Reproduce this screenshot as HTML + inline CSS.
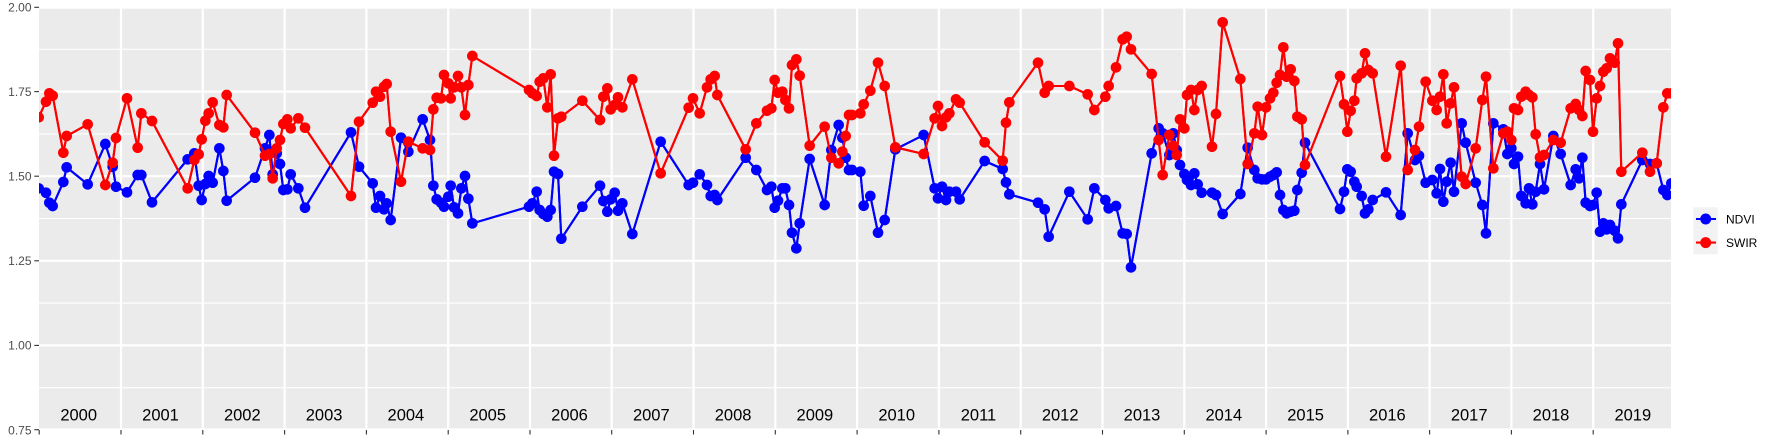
<!DOCTYPE html>
<html>
<head>
<meta charset="utf-8">
<style>
html,body{margin:0;padding:0;background:#fff;}
svg{display:block;}
text{font-family:"Liberation Sans",Arial,sans-serif;}
</style>
</head>
<body>
<svg width="1773" height="442" viewBox="0 0 1773 442" xmlns="http://www.w3.org/2000/svg">
<defs>
<clipPath id="pc"><rect x="39" y="7" width="1632" height="423"/></clipPath>
<marker id="mb" viewBox="0 0 34 34" refX="17" refY="17" markerWidth="34" markerHeight="34" markerUnits="userSpaceOnUse" overflow="visible"><circle cx="17" cy="17" r="16" fill="#0000FF"/></marker>
<marker id="mr" viewBox="0 0 34 34" refX="17" refY="17" markerWidth="34" markerHeight="34" markerUnits="userSpaceOnUse" overflow="visible"><circle cx="17" cy="17" r="16" fill="#FF0000"/></marker>
</defs>
<rect x="0" y="0" width="1773" height="442" fill="#fff"/>
<!-- panel -->
<rect x="39" y="7" width="1632" height="423" fill="#EBEBEB"/>
<!-- minor gridlines -->
<g stroke="#fff" stroke-width="1.1">
<line x1="39" x2="1671" y1="49.3" y2="49.3"/>
<line x1="39" x2="1671" y1="133.9" y2="133.9"/>
<line x1="39" x2="1671" y1="218.5" y2="218.5"/>
<line x1="39" x2="1671" y1="303.1" y2="303.1"/>
<line x1="39" x2="1671" y1="387.7" y2="387.7"/>
</g>
<!-- major gridlines -->
<g stroke="#fff" stroke-width="2.2">
<line x1="39" x2="1671" y1="7.5" y2="7.5"/>
<line x1="39" x2="1671" y1="91.6" y2="91.6"/>
<line x1="39" x2="1671" y1="176.2" y2="176.2"/>
<line x1="39" x2="1671" y1="260.8" y2="260.8"/>
<line x1="39" x2="1671" y1="345.4" y2="345.4"/>
<line x1="39" x2="1671" y1="429.5" y2="429.5"/>
<line x1="121" x2="121" y1="7" y2="430"/>
<line x1="202.8" x2="202.8" y1="7" y2="430"/>
<line x1="284.6" x2="284.6" y1="7" y2="430"/>
<line x1="366.4" x2="366.4" y1="7" y2="430"/>
<line x1="448.2" x2="448.2" y1="7" y2="430"/>
<line x1="530" x2="530" y1="7" y2="430"/>
<line x1="611.7" x2="611.7" y1="7" y2="430"/>
<line x1="693.5" x2="693.5" y1="7" y2="430"/>
<line x1="775.3" x2="775.3" y1="7" y2="430"/>
<line x1="857.1" x2="857.1" y1="7" y2="430"/>
<line x1="938.9" x2="938.9" y1="7" y2="430"/>
<line x1="1020.7" x2="1020.7" y1="7" y2="430"/>
<line x1="1102.5" x2="1102.5" y1="7" y2="430"/>
<line x1="1184.3" x2="1184.3" y1="7" y2="430"/>
<line x1="1266.1" x2="1266.1" y1="7" y2="430"/>
<line x1="1347.9" x2="1347.9" y1="7" y2="430"/>
<line x1="1429.6" x2="1429.6" y1="7" y2="430"/>
<line x1="1511.4" x2="1511.4" y1="7" y2="430"/>
<line x1="1593.2" x2="1593.2" y1="7" y2="430"/>
</g>
<!-- year labels -->
<g font-size="16.5" fill="#000" text-anchor="middle">
<text x="78.7" y="420.5">2000</text>
<text x="160.5" y="420.5">2001</text>
<text x="242.3" y="420.5">2002</text>
<text x="324.1" y="420.5">2003</text>
<text x="405.9" y="420.5">2004</text>
<text x="487.7" y="420.5">2005</text>
<text x="569.5" y="420.5">2006</text>
<text x="651.3" y="420.5">2007</text>
<text x="733.1" y="420.5">2008</text>
<text x="814.9" y="420.5">2009</text>
<text x="896.7" y="420.5">2010</text>
<text x="978.5" y="420.5">2011</text>
<text x="1060.2" y="420.5">2012</text>
<text x="1142" y="420.5">2013</text>
<text x="1223.8" y="420.5">2014</text>
<text x="1305.6" y="420.5">2015</text>
<text x="1387.4" y="420.5">2016</text>
<text x="1469.2" y="420.5">2017</text>
<text x="1551" y="420.5">2018</text>
<text x="1632.8" y="420.5">2019</text>
</g>
<!-- data -->
<g clip-path="url(#pc)">
<g transform="translate(36,10) scale(0.333333)">
<polyline id="bl" fill="none" stroke="#0000FF" stroke-width="6.3" stroke-linejoin="round" points="8,535 30,548 40,578 50,588 82,516 92,472 155,523 208,402 230,470 240,530 273,547 305,495 316,495 348,577 455,448 475,430 488,527 497,570 508,522 518,498 530,518 550,415 562,483 572,572 657,503 687,415 700,375 710,493 722,430 732,462 742,540 754,538 764,493 787,535 807,593 945,367 969,470 1010,520 1020,593 1032,558 1044,598 1052,580 1064,630 1095,383 1117,425 1160,328 1182,390 1192,527 1202,568 1215,578 1224,590 1237,560 1244,527 1254,592 1266,610 1276,535 1287,498 1297,566 1309,640 1479,590 1489,580 1502,545 1511,600 1522,612 1534,620 1544,600 1554,485 1566,492 1576,686 1639,590 1692,527 1702,573 1714,605 1724,568 1736,548 1746,602 1759,580 1789,672 1874,395 1958,525 1971,518 1991,493 2013,525 2024,558 2036,555 2044,570 2129,443 2161,480 2193,540 2206,530 2216,593 2226,572 2239,535 2248,535 2259,585 2268,668 2281,715 2291,640 2321,447 2366,585 2386,420 2408,345 2419,383 2429,443 2439,480 2448,480 2473,485 2483,587 2503,558 2526,668 2546,630 2578,418 2663,375 2696,535 2706,565 2718,530 2730,570 2740,545 2760,545 2771,568 2846,453 2900,477 2910,517 2920,553 3006,578 3026,598 3038,680 3100,545 3155,628 3175,535 3208,570 3218,595 3240,588 3260,670 3272,672 3285,772 3347,430 3368,355 3380,370 3400,435 3412,370 3422,420 3432,465 3445,492 3453,510 3465,525 3475,490 3485,523 3497,548 3528,548 3540,555 3560,612 3613,552 3635,413 3655,480 3665,505 3678,508 3690,508 3702,500 3712,495 3722,487 3732,555 3742,600 3752,610 3764,605 3775,602 3784,540 3797,488 3807,398 3912,597 3924,545 3934,478 3944,485 3955,515 3962,530 3977,558 3987,610 3997,598 4010,570 4050,547 4094,615 4115,370 4137,450 4149,437 4169,518 4189,510 4202,550 4212,477 4222,575 4232,515 4244,458 4254,545 4277,340 4289,398 4319,518 4339,585 4350,670 4372,340 4402,358 4414,432 4426,415 4434,462 4446,440 4456,558 4469,580 4479,535 4489,583 4499,545 4512,462 4524,538 4552,378 4574,432 4604,525 4619,478 4629,505 4639,443 4649,578 4662,588 4671,585 4682,548 4692,665 4702,640 4712,658 4722,645 4736,662 4746,685 4756,583 4819,450 4842,462 4862,460 4882,540 4894,555 4906,520"/>
<polyline id="rl" fill="none" stroke="#FF0000" stroke-width="6.3" stroke-linejoin="round" points="8,322 30,275 40,250 50,257 82,428 92,378 155,343 208,525 230,458 240,384 273,265 305,413 316,310 348,333 455,535 475,450 488,433 497,388 508,332 518,310 530,277 550,345 562,352 572,255 657,368 687,437 700,432 710,505 722,415 732,390 742,342 754,328 764,355 787,325 807,353 945,558 969,335 1010,278 1020,245 1032,260 1044,230 1052,222 1064,365 1095,515 1117,395 1160,415 1182,420 1192,298 1202,263 1215,265 1224,195 1237,220 1244,265 1254,232 1266,198 1276,232 1287,315 1297,225 1309,138 1479,240 1489,250 1502,258 1511,215 1522,205 1534,292 1544,193 1554,437 1566,325 1576,320 1639,272 1692,330 1702,260 1714,235 1724,298 1736,285 1746,262 1759,292 1789,208 1874,490 1958,293 1971,265 1991,310 2013,232 2024,208 2036,198 2044,255 2129,418 2161,340 2193,302 2206,295 2216,210 2226,248 2239,245 2248,270 2259,295 2268,165 2281,148 2291,197 2321,407 2366,350 2386,443 2408,460 2419,425 2429,378 2439,315 2448,315 2473,310 2483,283 2503,242 2526,158 2546,228 2578,412 2663,432 2696,325 2706,288 2718,348 2730,322 2740,310 2760,268 2771,278 2846,397 2900,452 2910,338 2920,277 3006,158 3026,248 3038,228 3100,228 3155,253 3175,300 3208,260 3218,228 3240,172 3260,88 3272,80 3285,118 3347,192 3368,390 3380,495 3400,375 3412,408 3422,435 3432,328 3445,355 3453,255 3465,240 3475,300 3485,240 3497,228 3528,410 3540,312 3560,37 3613,207 3635,462 3655,370 3665,290 3678,375 3690,292 3702,265 3712,248 3722,218 3732,195 3742,112 3752,200 3764,178 3775,213 3784,320 3797,328 3807,465 3912,198 3924,283 3934,365 3944,302 3955,272 3962,205 3977,190 3987,130 3997,180 4010,190 4050,440 4094,167 4115,480 4137,420 4149,350 4169,215 4189,272 4202,300 4212,260 4222,193 4232,340 4244,280 4254,232 4277,500 4289,522 4319,415 4339,270 4350,200 4372,475 4402,370 4414,365 4426,390 4434,295 4446,300 4456,260 4469,245 4479,255 4489,262 4499,373 4512,442 4524,435 4552,390 4574,398 4604,295 4619,282 4629,300 4639,318 4649,183 4662,210 4671,365 4682,265 4692,228 4702,185 4712,175 4722,145 4736,158 4746,100 4756,485 4819,428 4842,485 4862,460 4882,292 4894,250 4906,250"/>
<use href="#bl" stroke="none" marker-start="url(#mb)" marker-mid="url(#mb)" marker-end="url(#mb)"/>
<use href="#rl" stroke="none" marker-start="url(#mr)" marker-mid="url(#mr)" marker-end="url(#mr)"/>
</g>
</g>
<!-- y axis -->
<g font-size="12" fill="#4D4D4D" text-anchor="end">
<text x="31.5" y="11.3">2.00</text>
<text x="31.5" y="95.9">1.75</text>
<text x="31.5" y="180.5">1.50</text>
<text x="31.5" y="265.1">1.25</text>
<text x="31.5" y="349.7">1.00</text>
<text x="31.5" y="434.3">0.75</text>
</g>
<g stroke="#333333" stroke-width="1.1">
<line x1="34.3" x2="39" y1="7.3" y2="7.3"/>
<line x1="34.3" x2="39" y1="91.6" y2="91.6"/>
<line x1="34.3" x2="39" y1="176.2" y2="176.2"/>
<line x1="34.3" x2="39" y1="260.8" y2="260.8"/>
<line x1="34.3" x2="39" y1="345.4" y2="345.4"/>
<line x1="34.3" x2="39" y1="429.7" y2="429.7"/>
<line x1="39.2" x2="39.2" y1="430" y2="434.5"/>
<line x1="121" x2="121" y1="430" y2="434.5"/>
<line x1="202.8" x2="202.8" y1="430" y2="434.5"/>
<line x1="284.6" x2="284.6" y1="430" y2="434.5"/>
<line x1="366.4" x2="366.4" y1="430" y2="434.5"/>
<line x1="448.2" x2="448.2" y1="430" y2="434.5"/>
<line x1="530" x2="530" y1="430" y2="434.5"/>
<line x1="611.7" x2="611.7" y1="430" y2="434.5"/>
<line x1="693.5" x2="693.5" y1="430" y2="434.5"/>
<line x1="775.3" x2="775.3" y1="430" y2="434.5"/>
<line x1="857.1" x2="857.1" y1="430" y2="434.5"/>
<line x1="938.9" x2="938.9" y1="430" y2="434.5"/>
<line x1="1020.7" x2="1020.7" y1="430" y2="434.5"/>
<line x1="1102.5" x2="1102.5" y1="430" y2="434.5"/>
<line x1="1184.3" x2="1184.3" y1="430" y2="434.5"/>
<line x1="1266.1" x2="1266.1" y1="430" y2="434.5"/>
<line x1="1347.9" x2="1347.9" y1="430" y2="434.5"/>
<line x1="1429.6" x2="1429.6" y1="430" y2="434.5"/>
<line x1="1511.4" x2="1511.4" y1="430" y2="434.5"/>
<line x1="1593.2" x2="1593.2" y1="430" y2="434.5"/>
</g>
<!-- legend -->
<rect x="1693.3" y="207.3" width="24.4" height="23.5" fill="#F2F2F2"/>
<rect x="1693.3" y="230.8" width="24.4" height="23.5" fill="#F2F2F2"/>
<line x1="1696" x2="1716" y1="219" y2="219" stroke="#0000FF" stroke-width="2.1"/>
<circle cx="1705.7" cy="219" r="5.5" fill="#0000FF"/>
<line x1="1696" x2="1716" y1="242.6" y2="242.6" stroke="#FF0000" stroke-width="2.1"/>
<circle cx="1705.7" cy="242.6" r="5.5" fill="#FF0000"/>
<g font-size="12" fill="#000">
<text x="1726" y="223.3">NDVI</text>
<text x="1726" y="246.9">SWIR</text>
</g>
</svg>
</body>
</html>
